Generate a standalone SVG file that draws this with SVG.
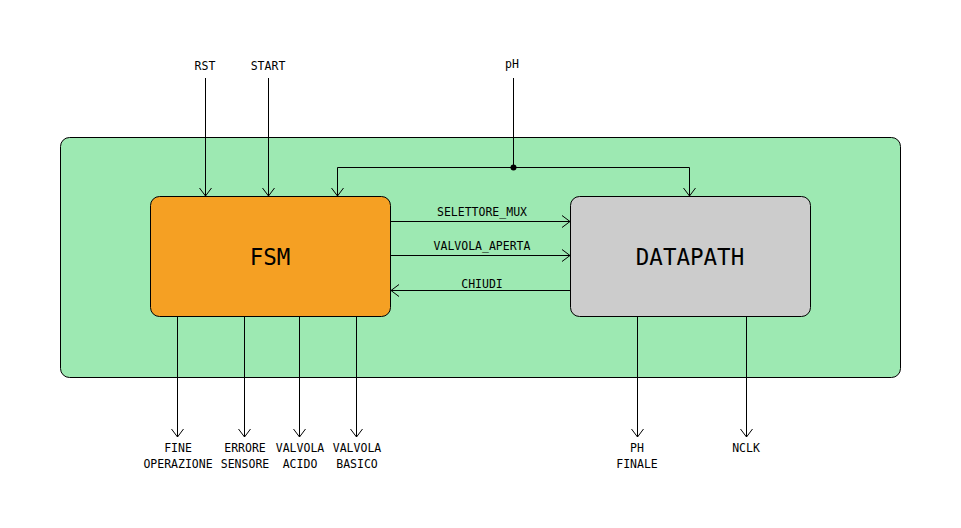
<svg xmlns="http://www.w3.org/2000/svg" width="961" height="528" viewBox="0 0 961 528">
<defs>
<marker id="arr" viewBox="0 0 10 14" refX="9" refY="7" markerWidth="10" markerHeight="14" markerUnits="userSpaceOnUse" orient="auto">
<path d="M1,1 L9,7 L1,13" fill="none" stroke="#000" stroke-width="1"/>
</marker>
<style>
.wire{fill:none;stroke:#000;stroke-width:1}
.t{font-family:"DejaVu Sans Mono",monospace;font-size:11.5px;fill:#000;text-anchor:middle}
.big{font-family:"DejaVu Sans Mono",monospace;font-size:22.5px;fill:#000;text-anchor:middle}
</style>
</defs>
<rect width="961" height="528" fill="#fff"/>
<g id="system"><rect x="60.5" y="137.5" width="840" height="240" rx="9" fill="#9de9b2" stroke="#000"/></g>
<g id="fsm"><rect x="150.5" y="196.5" width="240" height="120" rx="9" fill="#f5a023" stroke="#000"/><text class="big" x="270" y="265">FSM</text></g>
<g id="datapath"><rect x="570.5" y="196.5" width="240" height="120" rx="9" fill="#cccccc" stroke="#000"/><text class="big" x="690" y="265">DATAPATH</text></g>
<g id="connectors">
<path class="wire" d="M205.5,78 V196" marker-end="url(#arr)"/>
<path class="wire" d="M268.5,78 V196" marker-end="url(#arr)"/>
<path class="wire" d="M513.5,78 V167.5"/>
<path class="wire" d="M513.5,167.5 H337.5 V196" marker-end="url(#arr)"/>
<path class="wire" d="M513.5,167.5 H689.5 V196" marker-end="url(#arr)"/>
<circle cx="513.5" cy="167.5" r="3" fill="#000"/>
<path class="wire" d="M390.5,221.5 H570" marker-end="url(#arr)"/>
<path class="wire" d="M390.5,255.5 H570" marker-end="url(#arr)"/>
<path class="wire" d="M570.5,290.5 H391" marker-end="url(#arr)"/>
<path class="wire" d="M177.5,316.5 V437" marker-end="url(#arr)"/>
<path class="wire" d="M244.5,316.5 V437" marker-end="url(#arr)"/>
<path class="wire" d="M299.5,316.5 V437" marker-end="url(#arr)"/>
<path class="wire" d="M356.5,316.5 V437" marker-end="url(#arr)"/>
<path class="wire" d="M637.5,316.5 V437" marker-end="url(#arr)"/>
<path class="wire" d="M746.5,316.5 V437" marker-end="url(#arr)"/>
</g>
<g id="labels">
<text class="t" x="205" y="70">RST</text>
<text class="t" x="268" y="70">START</text>
<text class="t" x="512" y="68">pH</text>
<text class="t" x="482" y="216">SELETTORE_MUX</text>
<text class="t" x="482" y="250">VALVOLA_APERTA</text>
<text class="t" x="482" y="288">CHIUDI</text>
<text class="t" x="178" y="452">FINE</text>
<text class="t" x="178" y="468">OPERAZIONE</text>
<text class="t" x="245" y="452">ERRORE</text>
<text class="t" x="245" y="468">SENSORE</text>
<text class="t" x="300" y="452">VALVOLA</text>
<text class="t" x="300" y="468">ACIDO</text>
<text class="t" x="357" y="452">VALVOLA</text>
<text class="t" x="357" y="468">BASICO</text>
<text class="t" x="637" y="452">PH</text>
<text class="t" x="637" y="468">FINALE</text>
<text class="t" x="746" y="452">NCLK</text>
</g>
</svg>
